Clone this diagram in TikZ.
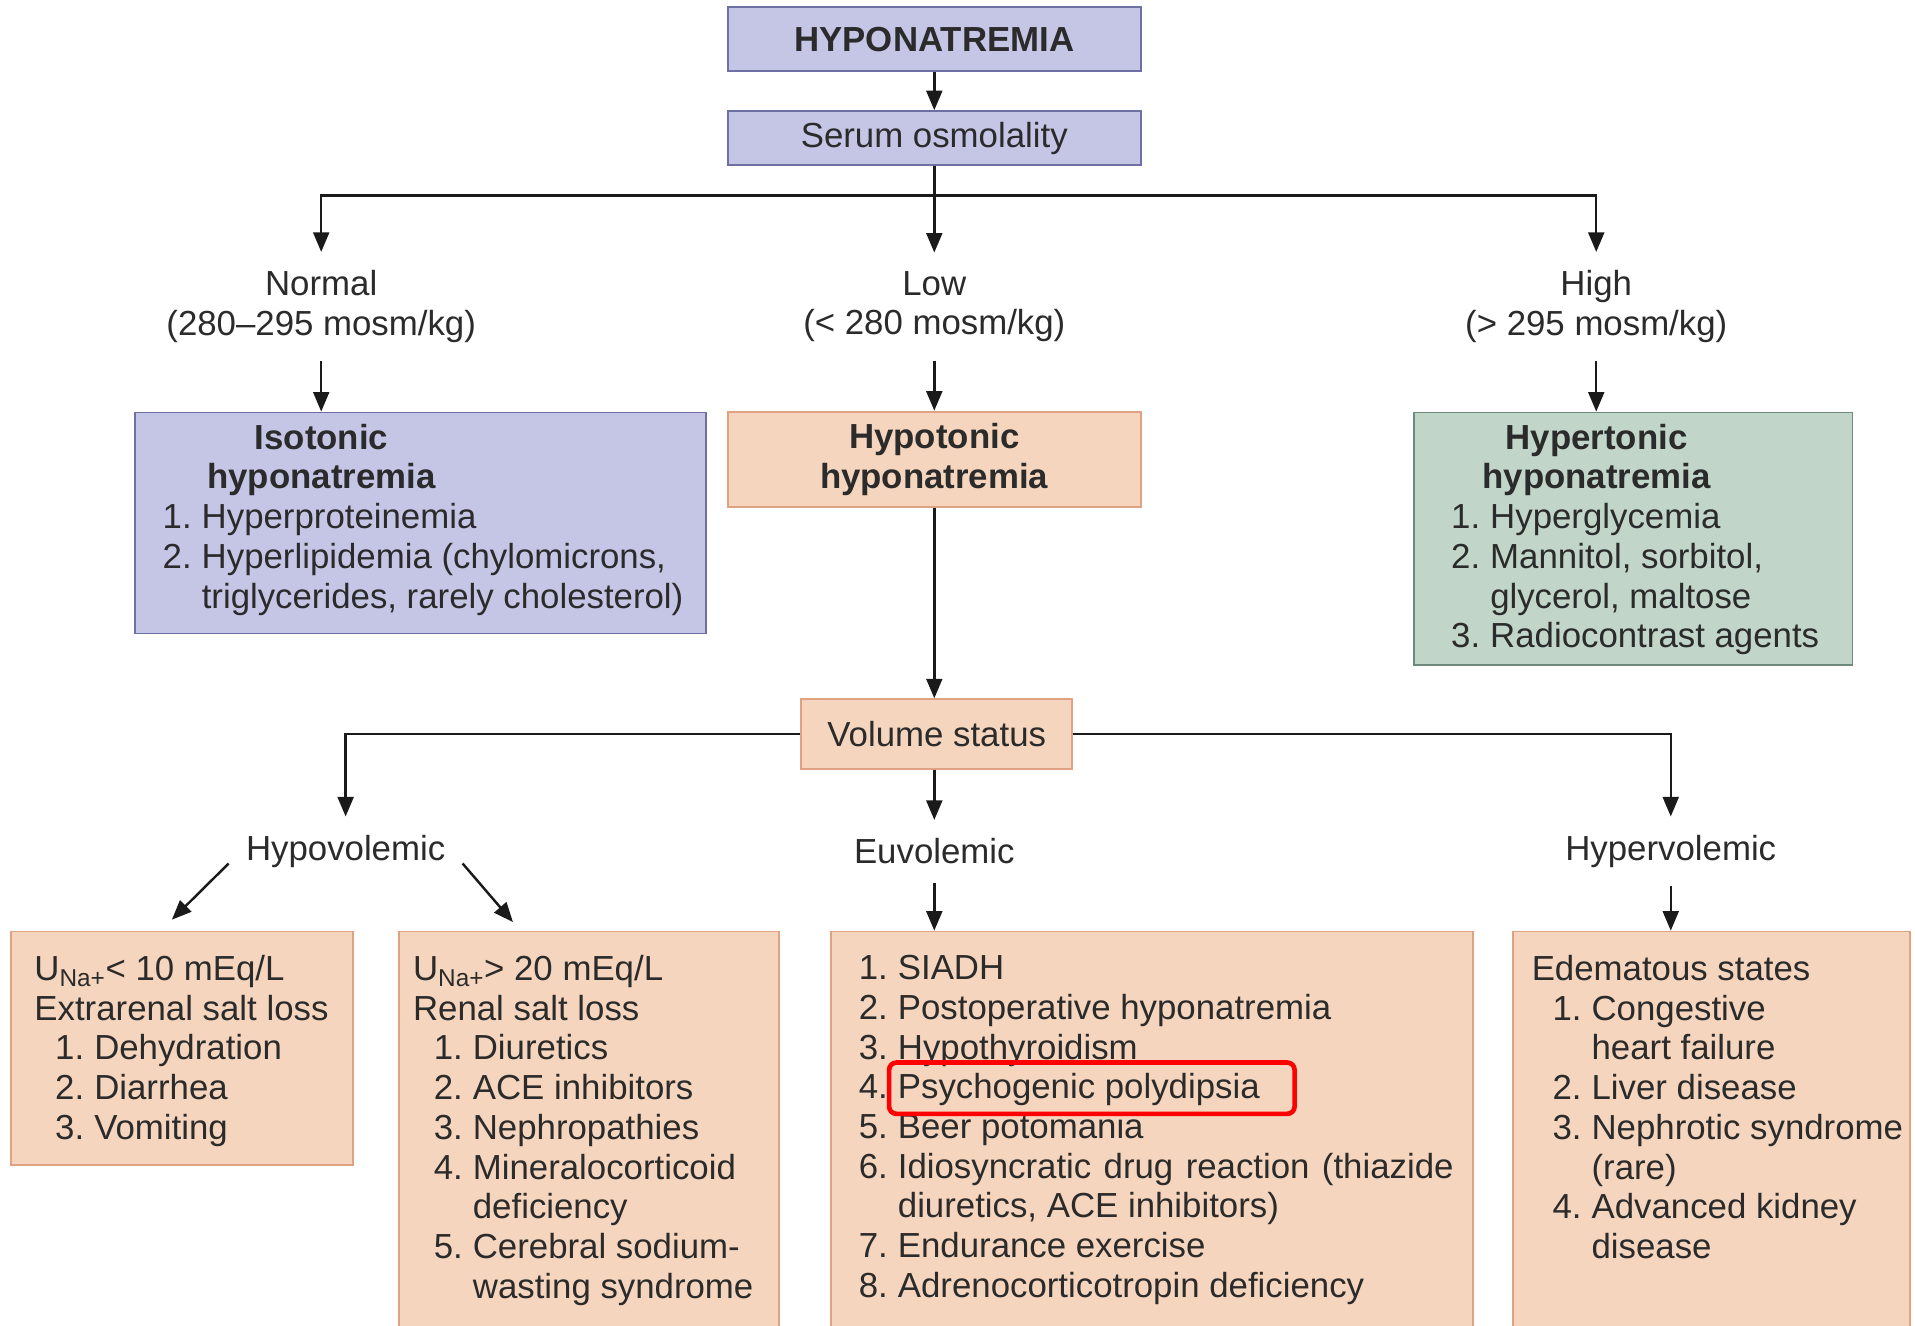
\documentclass[tikz,border=0pt]{standalone}
\usepackage{fontspec}
\setmainfont{Liberation Sans}
\usetikzlibrary{arrows.meta}
\definecolor{lav}{HTML}{C5C6E6}
\definecolor{lavline}{HTML}{6E6FA2}
\definecolor{peach}{HTML}{F5D5BD}
\definecolor{peachline}{HTML}{DFA384}
\definecolor{sage}{HTML}{C1D5C9}
\definecolor{sageline}{HTML}{6F8A7C}
\definecolor{ink}{HTML}{2B2B2B}
\definecolor{wireink}{HTML}{1A1A1A}
\newcommand{\nr}[1]{\makebox[32pt][l]{#1}}
\newcommand{\inr}[1]{\hspace*{17pt}\makebox[32pt][l]{#1}}
\newcommand{\ttl}[2]{\makebox[#1][c]{\bfseries #2}}

\begin{document}
\begin{tikzpicture}[x=1pt,y=-1pt,
    every node/.style={font=\fontsize{28.5}{32.5}\selectfont, text=ink},
    lavbox/.style={draw=lavline, fill=lav, line width=1.5pt},
    peachbox/.style={draw=peachline, fill=peach, line width=1.5pt},
    sagebox/.style={draw=sageline, fill=sage, line width=1.5pt},
    branch/.style={align=center, inner ysep=15pt, inner xsep=14pt},
    inside/.style={anchor=north west, align=left, inner sep=0pt},
    wire/.style={draw=wireink, line width=2pt},
    link/.style={draw=wireink, line width=2pt, -{Triangle[length=16pt,width=13pt]}},
    redmark/.style={draw=red, line width=3.8pt, rounded corners=6pt, minimum width=332pt, minimum height=42pt}]
    \useasboundingbox (0,0) rectangle (1568,1085);
    \clip (0,0) rectangle (1568,1085);
    \fill [white] (0,0) rectangle (1568,1085);

    \node [lavbox, minimum width=338pt, minimum height=52pt] (hypo) at (765,32) {\bfseries HYPONATREMIA};
    \node [lavbox, minimum width=338pt, minimum height=44pt] (serum) at (765,113) {Serum osmolality};
    \coordinate (osmfork) at (765,160);

    \node [branch] (normal) at (263,251) {Normal\\(280--295 mosm/kg)};
    \node [branch] (low) at (765,251) {Low\\(< 280 mosm/kg)};
    \node [branch] (high) at (1307,251) {High\\(> 295 mosm/kg)};

    \node [lavbox, anchor=north west, minimum width=467pt, minimum height=181pt,
        label={[inside, xshift=23pt, yshift=-10pt]north west:{\ttl{260pt}{Isotonic}\\\ttl{260pt}{hyponatremia}\\\nr{1.}Hyperproteinemia\\\nr{2.}Hyperlipidemia (chylomicrons,\\\nr{}triglycerides, rarely cholesterol)}}] (isotonic) at (110,337) {};
    \node [peachbox, minimum width=338pt, minimum height=78pt, align=center] (hypotonic) at (765,376) {\textbf{Hypotonic}\\\textbf{hyponatremia}};
    \node [sagebox, anchor=north west, minimum width=359pt, minimum height=207pt,
        label={[inside, xshift=31pt, yshift=-10pt]north west:{\ttl{238pt}{Hypertonic}\\\ttl{238pt}{hyponatremia}\\\nr{1.}Hyperglycemia\\\nr{2.}Mannitol, sorbitol,\\\nr{}glycerol, maltose\\\nr{3.}Radiocontrast agents}}] (hypertonic) at (1157,337) {};

    \node [peachbox, minimum width=222pt, minimum height=57pt] (volume) at (767,601) {Volume status};

    \node [branch] (hypovol) at (283,697) {Hypovolemic};
    \node [branch] (euvol) at (765,697) {Euvolemic};
    \node [branch] (hypervol) at (1368,697) {Hypervolemic};

    \node [peachbox, anchor=north west, minimum width=280pt, minimum height=191pt,
        label={[inside, xshift=20pt, yshift=-20pt]north west:{U\textsubscript{Na+}< 10 mEq/L\\Extrarenal salt loss\\\inr{1.}Dehydration\\\inr{2.}Diarrhea\\\inr{3.}Vomiting}}] (extrarenal) at (8,762) {};
    \node [peachbox, anchor=north west, minimum width=311pt, minimum height=340pt,
        label={[inside, xshift=12pt, yshift=-20pt]north west:{U\textsubscript{Na+}> 20 mEq/L\\Renal salt loss\\\inr{1.}Diuretics\\\inr{2.}ACE inhibitors\\\inr{3.}Nephropathies\\\inr{4.}Mineralocorticoid\\\inr{}deficiency\\\inr{5.}Cerebral sodium-\\\inr{}wasting syndrome}}] (renal) at (326,762) {};
    \node [peachbox, anchor=north west, minimum width=525pt, minimum height=340pt,
        label={[inside, xshift=23pt, yshift=-20pt]north west:{\nr{1.}SIADH\\\nr{2.}Postoperative hyponatremia\\\nr{3.}Hypothyroidism\\\nr{4.}Psychogenic polydipsia\\\nr{5.}Beer potomania\\\nr{6.}\makebox[455pt][s]{Idiosyncratic drug reaction (thiazide}\\\nr{}diuretics, ACE inhibitors)\\\nr{7.}Endurance exercise\\\nr{8.}Adrenocorticotropin deficiency}}] (euvolbox) at (680,762) {};
    \node [peachbox, anchor=north west, minimum width=325pt, minimum height=340pt,
        label={[inside, xshift=16pt, yshift=-20pt]north west:{Edematous states\\\inr{1.}Congestive\\\inr{}heart failure\\\inr{2.}Liver disease\\\inr{3.}Nephrotic syndrome\\\inr{}(rare)\\\inr{4.}Advanced kidney\\\inr{}disease}}] (edema) at (1238,762) {};

    \node [redmark] (flag) at (894,891) {};

    \draw [link] (hypo) -- (serum);
    \draw [wire] (serum.south) -- (osmfork);
    \draw [link] (osmfork) -| (normal.north);
    \draw [link] (osmfork) -- (low.north);
    \draw [link] (osmfork) -| (high.north);
    \draw [link] (normal.south) -- (normal.south |- isotonic.north);
    \draw [link] (low.south) -- (hypotonic.north);
    \draw [link] (high.south) -- (high.south |- hypertonic.north);
    \draw [link] (hypotonic.south) -- (hypotonic.south |- volume.north);
    \draw [link] (volume.west) -| (hypovol.north);
    \draw [link] (euvol.north |- volume.south) -- (euvol.north);
    \draw [link] (volume.east) -| (hypervol.north);
    \draw [link] ([yshift=-10pt]hypovol.west) -- ([xshift=-8pt,yshift=9pt]extrarenal.north);
    \draw [link] ([yshift=-10pt]hypovol.east) -- ([xshift=94pt,yshift=7pt]renal.north west);
    \draw [link] (euvol.south) -- (euvol.south |- euvolbox.north);
    \draw [link] (hypervol.south) -- (hypervol.south |- edema.north);
\end{tikzpicture}
\end{document}
